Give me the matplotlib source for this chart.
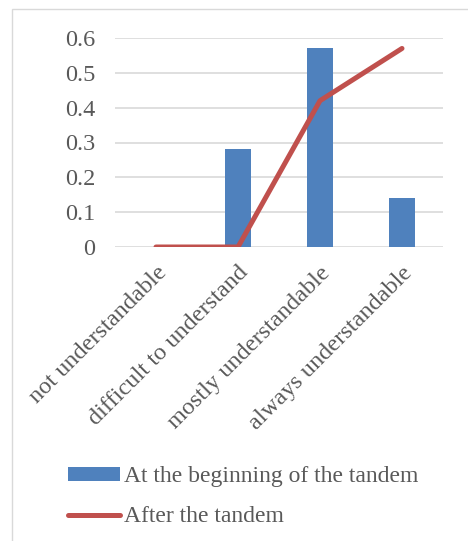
import numpy as np
import matplotlib.pyplot as plt
from matplotlib.patches import Rectangle

plt.rcParams['font.family'] = ['Liberation Serif', 'DejaVu Serif']

categories = ['not understandable', 'difficult to understand',
              'mostly understandable', 'always understandable']
beginning = [0, 0.28, 0.57, 0.14]
after = [0, 0, 0.42, 0.57]
yticks = [0, 0.1, 0.2, 0.3, 0.4, 0.5, 0.6]
ytick_labels = ['0', '0.1', '0.2', '0.3', '0.4', '0.5', '0.6']

blue = '#4f81bd'
red = '#c0504d'
grey = '#595959'

fig = plt.figure(figsize=(4.68, 5.41), dpi=100)
fig.patches.append(Rectangle((12 / 468, -0.1), 1.2, 1 - 9 / 541 + 0.1,
                             transform=fig.transFigure, fill=False,
                             edgecolor='#d9d9d9', linewidth=1))
ax = fig.add_axes([115 / 468, 1 - 247 / 541, 328 / 468, 209 / 541])

x = np.arange(len(categories))
bars = ax.bar(x, beginning, width=0.31, color=blue, zorder=2,
              label='At the beginning of the tandem')
line, = ax.plot(x, after, color=red, linewidth=3.6, solid_capstyle='round',
                zorder=3, label='After the tandem')

ax.set_xlim(-0.5, 3.5)
ax.set_ylim(0, 0.6)
ax.set_yticks(yticks, ytick_labels)
ax.set_xticks(x, categories, rotation=45, ha='right', rotation_mode='anchor')
ax.tick_params(axis='both', length=0, labelsize=17.5, labelcolor=grey)
ax.tick_params(axis='y', pad=14)
ax.tick_params(axis='x', pad=11)
ax.grid(axis='y', color='#d9d9d9', linewidth=1.2, zorder=0)
ax.set_axisbelow(True)
for s in ax.spines.values():
    s.set_visible(False)

fig.legend(handles=[bars, line], loc='upper left',
           bbox_to_anchor=(59 / 468, 1 - 457 / 541),
           frameon=False, fontsize=17, labelcolor=grey, handlelength=2.2,
           handleheight=0.55, handletextpad=0.15, labelspacing=0.8,
           borderaxespad=0)

fig.savefig('out.png', dpi=100)
